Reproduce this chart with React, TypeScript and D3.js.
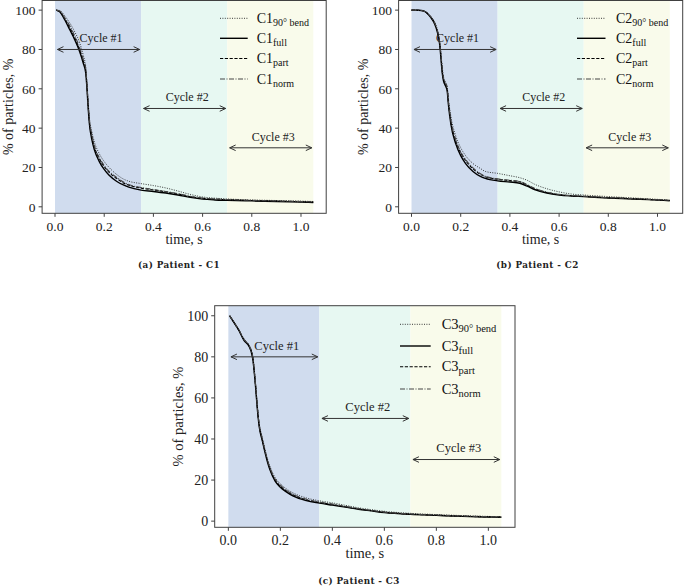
import React from "react";
import * as d3 from "d3";

// ---------- data ----------
const TIME_A = [0.005, 0.02, 0.04, 0.06, 0.08, 0.1, 0.115, 0.125, 0.13, 0.135, 0.14, 0.15, 0.16, 0.18, 0.2, 0.22, 0.25, 0.28, 0.3, 0.35, 0.4, 0.45, 0.5, 0.55, 0.6, 0.65, 0.7, 0.8, 0.9, 1.0, 1.05];
const C1_BEND = [100, 99.8, 97, 93.5, 89, 83.5, 77, 71, 63, 53, 45, 38, 33, 27, 23, 20, 16.5, 14, 13, 11.8, 10.8, 9.6, 8, 6.3, 5, 4.4, 4, 3.5, 3.2, 2.9, 2.7];
const C1_FULL = [100, 99, 95, 90, 85, 79, 73, 68, 60, 50, 42, 34, 29, 23, 19, 16, 13, 11, 10, 8.5, 7.8, 7, 6, 4.8, 3.9, 3.5, 3.3, 3, 2.7, 2.4, 2.2];
const C1_PART = [100, 99, 95.5, 91, 86, 80, 74, 69, 61, 51, 43, 36, 30.5, 24.5, 20.5, 17.5, 14.5, 12, 11, 9.5, 8.6, 7.6, 6.5, 5.2, 4.3, 3.9, 3.6, 3.2, 2.9, 2.6, 2.4];
const C1_NORM = [100, 99.5, 96, 92, 87, 81, 75, 70, 62, 52, 44, 36.5, 31, 25, 21, 18, 15, 12.5, 11.3, 9.8, 8.8, 7.8, 6.7, 5.4, 4.5, 4, 3.7, 3.3, 3, 2.7, 2.5];

const TIME_B = [0, 0.02, 0.04, 0.05, 0.06, 0.07, 0.08, 0.09, 0.1, 0.11, 0.115, 0.12, 0.125, 0.13, 0.14, 0.145, 0.15, 0.16, 0.18, 0.2, 0.22, 0.25, 0.28, 0.3, 0.35, 0.4, 0.44, 0.47, 0.5, 0.55, 0.6, 0.65, 0.7, 0.8, 0.9, 1.0, 1.05];
const C2_BEND = [100, 100, 99.8, 99.6, 99, 98, 96.6, 94.8, 92, 87.5, 83.5, 77.5, 71, 66, 63, 61, 55, 46, 36, 30, 26, 22, 19.5, 18, 17, 15.8, 14.8, 13.5, 11.5, 9.2, 7.6, 6.5, 6, 5.2, 4.5, 3.8, 3.4];
const C2_FULL = [100, 100, 99.8, 99.5, 98.8, 97.5, 96, 94, 91, 86, 82, 75, 68, 64, 61, 59, 52, 42, 32, 26, 22, 18, 15.5, 14.5, 13.2, 12.6, 12, 10.5, 8.8, 7, 6, 5.5, 5.2, 4.5, 4, 3.4, 3.1];
const C2_PART = [100, 100, 99.8, 99.5, 98.8, 97.6, 96.2, 94.3, 91.5, 86.5, 82.5, 76, 69, 65, 62, 60, 53, 43.5, 33.5, 27.5, 23.5, 19.3, 16.5, 15.3, 14, 13.3, 12.7, 11, 9.2, 7.3, 6.2, 5.6, 5.3, 4.6, 4.1, 3.5, 3.2];
const C2_NORM = [100, 100, 99.8, 99.5, 98.9, 97.7, 96.3, 94.5, 91.8, 87, 83, 77, 70, 65.5, 62.5, 60.5, 53.5, 44, 34, 28, 24, 19.8, 16.8, 15.5, 14.2, 13.5, 12.9, 11.3, 9.4, 7.5, 6.3, 5.7, 5.4, 4.7, 4.2, 3.6, 3.3];

const TIME_C = [0.005, 0.02, 0.04, 0.06, 0.08, 0.09, 0.095, 0.1, 0.105, 0.11, 0.115, 0.12, 0.13, 0.14, 0.15, 0.16, 0.18, 0.2, 0.22, 0.25, 0.3, 0.35, 0.4, 0.45, 0.5, 0.55, 0.6, 0.7, 0.8, 0.9, 1.0, 1.05];
const C3_BEND = [100, 97.3, 93.4, 88.8, 85.6, 82.5, 79.5, 73.5, 66.5, 58.5, 51.5, 46.5, 41, 35.5, 30.5, 26.7, 21.2, 18.2, 16, 13.7, 11.3, 9.9, 8.9, 7.7, 6.5, 5.6, 4.8, 3.8, 3.2, 2.7, 2.3, 2.1];
const C3_FULL = [100, 97, 93, 88, 85, 81.5, 78, 72, 65, 57, 50, 45, 39.5, 34, 29, 25, 19.5, 16.5, 14.5, 12.2, 10, 8.8, 7.8, 6.8, 5.8, 5, 4.2, 3.3, 2.8, 2.3, 2, 1.9];
const C3_PART = [100, 97, 93, 88.3, 85.2, 82, 78.5, 72.5, 65.5, 57.5, 50.5, 45.5, 40, 34.5, 29.5, 25.5, 20, 17, 15, 12.7, 10.4, 9.1, 8.1, 7, 6, 5.1, 4.3, 3.4, 2.9, 2.4, 2.1, 2];
const C3_NORM = [100, 97.2, 93.2, 88.5, 85.4, 82.2, 79, 73, 66, 58, 51, 46, 40.5, 35, 30, 26, 20.5, 17.5, 15.3, 13, 10.7, 9.3, 8.3, 7.2, 6.1, 5.2, 4.4, 3.5, 3, 2.5, 2.2, 2];

const SUBSCRIPTS = ["90° bend", "full", "part", "norm"];
const CYCLE_BOUNDS = [0, 0.35, 0.7, 1.05];
const CYCLE_LABELS = ["Cycle #1", "Cycle #2", "Cycle #3"];
const CYCLE_ARROW_Y = [80, 50, 30];
const X_TICKS = [0, 0.2, 0.4, 0.6, 0.8, 1.0];
const Y_TICKS = [0, 20, 40, 60, 80, 100];

// ---------- styles ----------
const REGION_COLORS = ["#d0dcee", "#e7f8f2", "#f9fbeb"];
const LINE_STYLES = [
  { dash: "1,1.4", width: 0.9, color: "#222" },
  { dash: "", width: 1.4, color: "#000" },
  { dash: "3.2,1.6", width: 1.1, color: "#000" },
  { dash: "5,1.5,1,1.5", width: 1.1, color: "#444" },
];
const SERIF = "'Liberation Serif', 'Times New Roman', serif";
const AXIS_COLOR = "#404040";

type PanelProps = {
  prefix: string;
  time: number[];
  series: number[][];
  left: number; right: number; top: number; bottom: number;
  yDomain: [number, number];
  fs: number;
  caption: string;
  captionX: number; captionY: number;
  legX0: number; legX1: number; legTextX: number; legYs: number[];
  yLabelX: number;
};

function Panel(p: PanelProps) {
  const x = d3.scaleLinear().domain([-0.0525, 1.1025]).range([p.left, p.right]);
  const y = d3.scaleLinear().domain(p.yDomain).range([p.bottom, p.top]);
  const line = d3
    .line<[number, number]>()
    .x((d) => x(d[0]))
    .y((d) => y(d[1]))
    .curve(d3.curveMonotoneX);
  const clipId = "clip-" + p.prefix;
  const head = 6, hw = 2.8;
  return (
    <g>
      <defs>
        <clipPath id={clipId}>
          <rect x={p.left} y={p.top} width={p.right - p.left} height={p.bottom - p.top} />
        </clipPath>
      </defs>
      {CYCLE_LABELS.map((_, i) => (
        <rect
          key={"r" + i}
          x={x(CYCLE_BOUNDS[i])}
          y={p.top}
          width={x(CYCLE_BOUNDS[i + 1]) - x(CYCLE_BOUNDS[i])}
          height={p.bottom - p.top}
          fill={REGION_COLORS[i]}
        />
      ))}
      <g clipPath={`url(#${clipId})`}>
        {p.series.map((vals, i) => (
          <path
            key={"s" + i}
            d={line(p.time.map((t, j) => [t, vals[j]] as [number, number])) || ""}
            fill="none"
            stroke={LINE_STYLES[i].color}
            strokeWidth={LINE_STYLES[i].width}
            strokeDasharray={LINE_STYLES[i].dash || undefined}
          />
        ))}
      </g>
      {CYCLE_LABELS.map((lab, i) => {
        const x0 = x(CYCLE_BOUNDS[i] + 0.01);
        const x1 = x(CYCLE_BOUNDS[i + 1] - 0.006);
        const yy = y(CYCLE_ARROW_Y[i]);
        return (
          <g key={"c" + i} stroke="#333" strokeWidth={1} fill="none">
            <line x1={x0} x2={x1} y1={yy} y2={yy} />
            <polyline points={`${x0 + head},${yy - hw} ${x0},${yy} ${x0 + head},${yy + hw}`} />
            <polyline points={`${x1 - head},${yy - hw} ${x1},${yy} ${x1 - head},${yy + hw}`} />
            <text
              x={x(CYCLE_BOUNDS[i] + 0.1)}
              y={yy - 7.3}
              stroke="none"
              fill="#222"
              fontFamily={SERIF}
              fontSize={p.fs - 1.5}
            >
              {lab}
            </text>
          </g>
        );
      })}
      {/* legend */}
      {SUBSCRIPTS.map((sub, i) => (
        <g key={"l" + i}>
          <line
            x1={p.legX0}
            x2={p.legX1}
            y1={p.legYs[i]}
            y2={p.legYs[i]}
            stroke={LINE_STYLES[i].color}
            strokeWidth={LINE_STYLES[i].width}
            strokeDasharray={LINE_STYLES[i].dash || undefined}
          />
          <text x={p.legTextX} y={p.legYs[i] + 4.5} fontFamily={SERIF} fontSize={p.fs + 0.5} fill="#111">
            {p.prefix}
            <tspan fontSize={p.fs - 3.5} dy={3}>{sub}</tspan>
          </text>
        </g>
      ))}
      {/* frame */}
      <rect
        x={p.left}
        y={p.top}
        width={p.right - p.left}
        height={p.bottom - p.top}
        fill="none"
        stroke={AXIS_COLOR}
        strokeWidth={1}
      />
      {X_TICKS.map((t) => (
        <g key={"xt" + t}>
          <line x1={x(t)} x2={x(t)} y1={p.bottom} y2={p.bottom + 3.5} stroke={AXIS_COLOR} />
          <text
            x={x(t)}
            y={p.bottom + 17.2}
            textAnchor="middle"
            fontFamily={SERIF}
            fontSize={p.fs}
            fill="#222"
          >
            {d3.format(".1f")(t)}
          </text>
        </g>
      ))}
      {Y_TICKS.map((v) => (
        <g key={"yt" + v}>
          <line x1={p.left - 3.5} x2={p.left} y1={y(v)} y2={y(v)} stroke={AXIS_COLOR} />
          <text
            x={p.left - 6.5}
            y={y(v)}
            dy="0.35em"
            textAnchor="end"
            fontFamily={SERIF}
            fontSize={p.fs}
            fill="#222"
          >
            {v}
          </text>
        </g>
      ))}
      <text
        x={(p.left + p.right) / 2}
        y={p.bottom + 30.5}
        textAnchor="middle"
        fontFamily={SERIF}
        fontSize={p.fs + 0.5}
        fill="#222"
      >
        time, s
      </text>
      <text
        transform={`translate(${p.yLabelX},${(p.top + p.bottom) / 2}) rotate(-90)`}
        textAnchor="middle"
        fontFamily={SERIF}
        fontSize={p.fs + 0.5}
        fill="#222"
      >
        % of particles, %
      </text>
      <text
        x={p.captionX}
        y={p.captionY}
        textAnchor="middle"
        fontFamily="'DejaVu Serif', serif"
        fontWeight="bold"
        fontSize={8.8}
        letterSpacing={0.4}
        fill="#222"
      >
        {p.caption}
      </text>
    </g>
  );
}

export default function App() {
  const yAB: [number, number] = [-3.3, 104.9];
  return (
    <svg
      width={685}
      height={586}
      style={{ position: "absolute", left: 0, top: 0, background: "#fff" }}
    >
      <rect x={0} y={0} width={685} height={586} fill="#fff" />
      <Panel
        prefix="C1"
        time={TIME_A}
        series={[C1_BEND, C1_FULL, C1_PART, C1_NORM]}
        left={42.1} right={326.2} top={0.5} bottom={213.3}
        yDomain={yAB}
        fs={13.5}
        caption="(a) Patient - C1"
        captionX={179} captionY={267.5}
        legX0={220} legX1={247.7} legTextX={256.7} legYs={[18.3, 38.3, 58.5, 79]}
        yLabelX={13}
      />
      <Panel
        prefix="C2"
        time={TIME_B}
        series={[C2_BEND, C2_FULL, C2_PART, C2_NORM]}
        left={398.6} right={682.7} top={0.5} bottom={213.3}
        yDomain={yAB}
        fs={13.5}
        caption="(b) Patient - C2"
        captionX={537.5} captionY={267.5}
        legX0={577} legX1={605.5} legTextX={616} legYs={[18.3, 38.3, 58.5, 79]}
        yLabelX={368}
      />
      <Panel
        prefix="C3"
        time={TIME_C}
        series={[C3_BEND, C3_FULL, C3_PART, C3_NORM]}
        left={214.7} right={515} top={305.7} bottom={527.3}
        yDomain={[-3, 104.9]}
        fs={14}
        caption="(c) Patient - C3"
        captionX={359} captionY={584}
        legX0={400} legX1={430.7} legTextX={441.7} legYs={[324.3, 346, 366.7, 389]}
        yLabelX={183}
      />
    </svg>
  );
}
